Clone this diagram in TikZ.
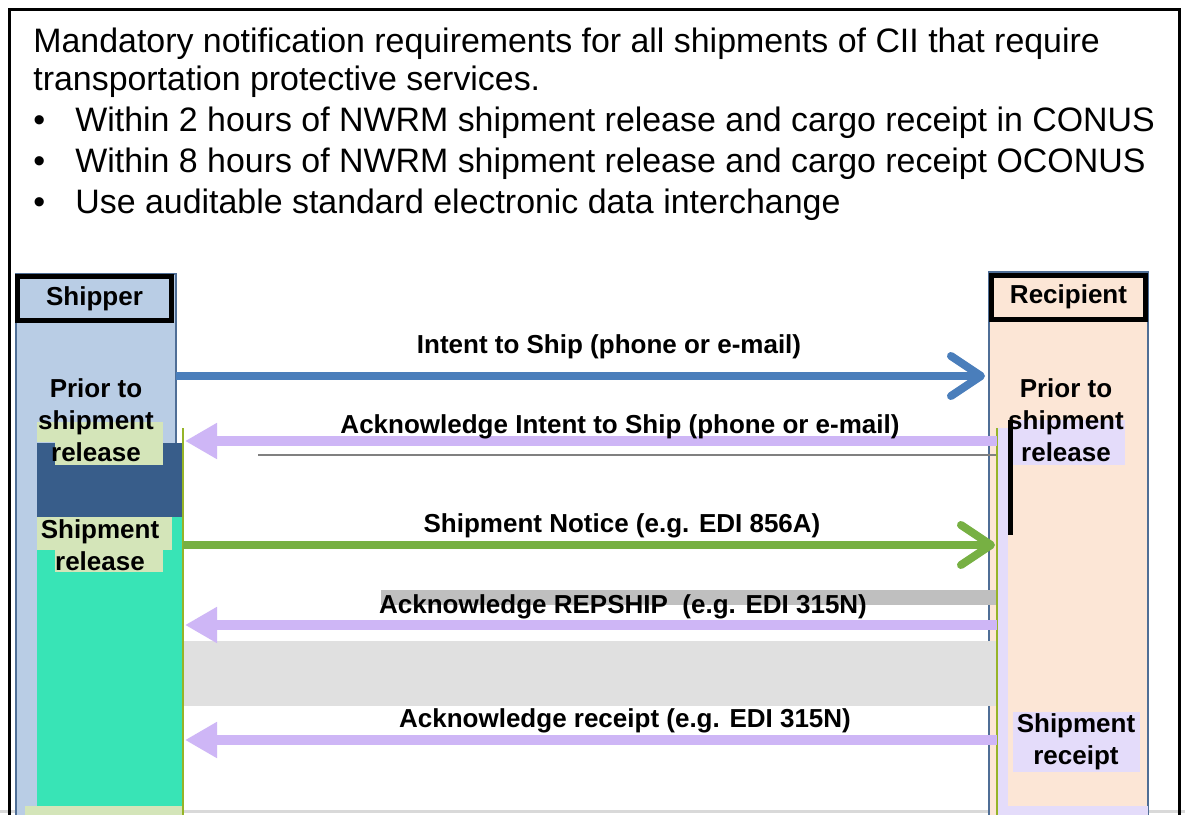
\documentclass[tikz,border=0pt]{standalone}
\usepackage{fontspec}
\setmainfont{Liberation Sans}
\usetikzlibrary{arrows.meta, positioning}
\definecolor{colblue}{RGB}{185,205,229}
\definecolor{colpeach}{RGB}{252,230,214}
\definecolor{coledge}{RGB}{79,110,150}
\definecolor{arrblue}{RGB}{74,126,187}
\definecolor{arrgreen}{RGB}{119,176,67}
\definecolor{arrlav}{RGB}{206,182,246}
\definecolor{actdark}{RGB}{56,93,138}
\definecolor{actteal}{RGB}{56,228,182}
\definecolor{palegrn}{RGB}{212,229,185}
\definecolor{palelav}{RGB}{228,220,250}
\definecolor{lifeln}{RGB}{150,180,40}

\begin{document}
\begin{tikzpicture}[x=0.5pt, y=-0.5pt,
  ttl/.style={font=\fontsize{16.95pt}{20pt}\selectfont, anchor=base west, inner sep=0pt},
  msg/.style={font=\fontsize{13pt}{16pt}\selectfont\bfseries, anchor=base, inner sep=0pt},
  phase/.style={font=\fontsize{13pt}{16pt}\selectfont\bfseries, align=center, inner sep=0pt},
  hdr/.style={draw=black, line width=2.5pt, font=\fontsize{13pt}{16pt}\selectfont\bfseries,
    minimum width=77pt, minimum height=22pt, inner sep=0pt},
  sendline/.style={line width=4pt, -{Straight Barb[round, length=15pt, width=20pt]}},
  ackline/.style={line width=5pt, arrlav, -{Triangle[length=16pt, width=17pt]}}]
\clip (0,0) rectangle (1185,815);
\fill[white] (0,0) rectangle (1185,815);
\draw[black!15, line width=1.5pt] (0,811) -- (1185,811);
\draw[line width=1.5pt] (9,830) -- (9,9) -- (1179,9) -- (1179,830);

\node[ttl] (t1) at (33,52) {Mandatory notification requirements for all shipments of CII that require};
\node[ttl] (t2) at (33,90) {transportation protective services.};
\node[ttl] (b1) at (33,131) {\textbullet};
\node[ttl] (l1) at (75,131) {Within 2 hours of NWRM shipment release and cargo receipt in CONUS};
\node[ttl] (b2) at (33,172) {\textbullet};
\node[ttl] (l2) at (75,172) {Within 8 hours of NWRM shipment release and cargo receipt OCONUS};
\node[ttl] (b3) at (33,213) {\textbullet};
\node[ttl] (l3) at (75,213) {Use auditable standard electronic data interchange};

\filldraw[fill=colblue, draw=coledge, line width=1pt] (16,274) rectangle (176,830);
\filldraw[fill=colpeach, draw=coledge, line width=1pt] (989,272) rectangle (1148,830);

\fill[actdark] (37,443) rectangle (183,517);
\fill[actteal] (37,517) rectangle (183,806);
\fill[palegrn] (25,806) rectangle (183,815);
\fill[black!25] (381,590) rectangle (997,605);
\fill[black!12] (183,641) rectangle (997,706);
\draw[black!50, line width=1pt] (258,455) -- (997,455);
\fill[palelav] (997,428) rectangle (1008,815);
\fill[palelav] (997,806) rectangle (1148,815);
\draw[lifeln, line width=1pt] (183,428) -- (183,815);
\draw[lifeln, line width=1pt] (997,428) -- (997,815);
\fill[black] (1008,420) rectangle (1013,535);

\fill[palegrn] (37,422) rectangle (163,442);
\fill[palegrn] (55,442) rectangle (163,465);
\fill[palegrn] (37,517) rectangle (172,550);
\fill[palegrn] (55,550) rectangle (163,572);
\fill[palelav] (1013,420) rectangle (1125,465);
\fill[palelav] (1013,712) rectangle (1140,772);

\node[hdr, fill=colblue] (shiphd) at (94.5,298.5) {Shipper};
\node[hdr, fill=colpeach] (rechd) at (1068.5,297) {Recipient};

\node[phase] (sprior) at (96,420) {Prior to\\shipment\\release};
\node[phase] (srel) at (100,545) {Shipment\\release};
\node[phase] (rprior) at (1066,420) {Prior to\\shipment\\release};
\node[phase] (rrec) at (1076,742) {Shipment\\receipt};

\coordinate (s1) at (176,376);
\coordinate (r1) at (985,376);
\coordinate (s2) at (185,441);
\coordinate (r2) at (997,441);
\coordinate (s3) at (183,545);
\coordinate (r3) at (995,545);
\coordinate (s4) at (185,625);
\coordinate (r4) at (997,625);
\coordinate (s5) at (185,740);
\coordinate (r5) at (997,740);

\draw[sendline, arrblue] (s1) -- (r1);
\draw[ackline] (r2) -- (s2);
\draw[sendline, arrgreen] (s3) -- (r3);
\draw[ackline] (r4) -- (s4);
\draw[ackline] (r5) -- (s5);

\node[msg] (m1) at (609,353) {Intent to Ship (phone or e-mail)};
\node[msg] (m2) at (620,433) {Acknowledge Intent to Ship (phone or e-mail)};
\node[msg] (m3) at (622,532) {Shipment Notice (e.g. EDI 856A)};
\node[msg] (m4) at (623,613) {Acknowledge REPSHIP\ \ (e.g. EDI 315N)};
\node[msg] (m5) at (625,727) {Acknowledge receipt (e.g. EDI 315N)};
\end{tikzpicture}
\end{document}
